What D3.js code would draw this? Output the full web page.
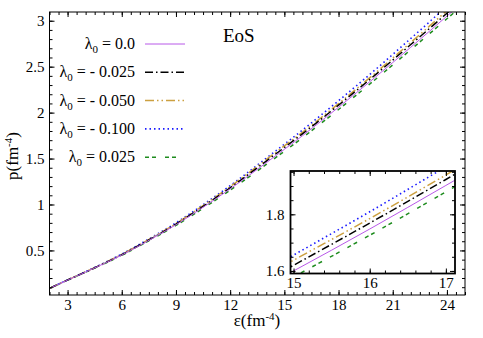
<!DOCTYPE html>
<html>
<head>
<meta charset="utf-8">
<script src="https://cdn.jsdelivr.net/npm/d3@7"></script>
<style>
  body { margin: 0; background: #fff; }
  svg text { font-family: "Liberation Serif", "Times New Roman", Times, "DejaVu Serif", serif; }
</style>
</head>
<body>
<svg id="chart" width="483" height="338"></svg>
<script>
// energy density grid (fm^-4)
const eps = [2, 3, 4, 5, 6, 7, 8, 9, 10, 11, 12, 13, 14, 15, 16, 17, 18, 19, 20, 21, 22, 23, 24, 25]

// pressure p (fm^-4) for each lambda_0
const pLam000 = [0.087, 0.177, 0.265, 0.355, 0.450, 0.555, 0.665, 0.780, 0.905, 1.035, 1.170, 1.310, 1.455, 1.600, 1.748, 1.902, 2.058, 2.218, 2.380, 2.545, 2.712, 2.880, 3.050, 3.222]
const pLamM025 = [0.087, 0.178, 0.266, 0.357, 0.453, 0.559, 0.670, 0.786, 0.913, 1.045, 1.182, 1.325, 1.473, 1.620, 1.769, 1.923, 2.081, 2.242, 2.405, 2.572, 2.741, 2.910, 3.082, 3.256]
const pLamM050 = [0.087, 0.178, 0.267, 0.359, 0.456, 0.563, 0.675, 0.792, 0.921, 1.055, 1.194, 1.339, 1.489, 1.638, 1.785, 1.939, 2.098, 2.260, 2.425, 2.594, 2.764, 2.936, 3.110, 3.286]
const pLamM100 = [0.087, 0.179, 0.269, 0.362, 0.460, 0.568, 0.681, 0.800, 0.930, 1.065, 1.205, 1.352, 1.504, 1.656, 1.809, 1.968, 2.129, 2.294, 2.461, 2.633, 2.807, 2.982, 3.160, 3.340]
const pLamP025 = [0.087, 0.176, 0.264, 0.353, 0.447, 0.551, 0.659, 0.772, 0.895, 1.023, 1.156, 1.294, 1.436, 1.579, 1.726, 1.879, 2.034, 2.193, 2.355, 2.519, 2.685, 2.853, 3.022, 3.193]

const lambdaLabels = ["0.0", "- 0.025", "- 0.050", "- 0.100", "0.025"]

const xTicks = [3, 6, 9, 12, 15, 18, 21, 24]
const yTicks = [0.5, 1, 1.5, 2, 2.5, 3]
const insetXTicks = [15, 16, 17]
const insetYTicks = [1.6, 1.8]

const series = [
    { label: lambdaLabels[0], values: pLam000, color: "#b858e8", dash: null, width: 1 },
    { label: lambdaLabels[1], values: pLamM025, color: "#000", dash: "8,3,1.5,3", width: 1.5 },
    { label: lambdaLabels[2], values: pLamM050, color: "#cca040", dash: "9,3,1.5,3,1.5,3", width: 1.5 },
    { label: lambdaLabels[3], values: pLamM100, color: "#1a1aff", dash: "1.5,3", width: 1.6 },
    { label: lambdaLabels[4], values: pLamP025, color: "#1e8c1e", dash: "4,3,4,9", width: 1.5 },
]

const serif = "'Liberation Serif', 'Times New Roman', Times, 'DejaVu Serif', serif"

const svg = d3.select("#chart")

const main = { left: 49.5, right: 465, top: 12, bottom: 295 }
const inset = { left: 290.5, right: 455, top: 171, bottom: 273.5 }

const x = d3.scaleLinear().domain([2, 25]).range([main.left, main.right])
const y = d3.scaleLinear().domain([0.015, 3.095]).range([main.bottom, main.top])
const xi = d3.scaleLinear().domain([14.96, 17.12]).range([inset.left, inset.right])
const yi = d3.scaleLinear().domain([1.591, 1.953]).range([inset.bottom, inset.top])

function range(a, b, step) {
    const out = []
    for (let v = a; v <= b + 1e-9; v += step) out.push(+v.toFixed(4))
    return out
}

function addFrame(box, sx, sy, major, minor, opts) {
    const g = svg.append("g")
    const w = box.right - box.left, h = box.bottom - box.top
    const styleAxis = (sel) => {
        sel.attr("font-family", null)
        sel.select(".domain").remove()
        sel.selectAll("line").attr("stroke", "#000").attr("stroke-width", 1)
        sel.selectAll("text").attr("fill", "#000").style("font-size", opts.fontSize).style("font-family", serif)
    }
    // bottom / top
    g.append("g").attr("transform", `translate(0,${box.bottom})`)
        .call(d3.axisBottom(sx).tickValues(major.x).tickSize(-opts.major).tickPadding(opts.xPad).tickFormat(d3.format("")))
        .call(styleAxis)
    g.append("g").attr("transform", `translate(0,${box.bottom})`)
        .call(d3.axisBottom(sx).tickValues(minor.x).tickSize(-opts.minor).tickFormat(""))
        .call(styleAxis)
    g.append("g").attr("transform", `translate(0,${box.top})`)
        .call(d3.axisTop(sx).tickValues(major.x).tickSize(-opts.major).tickFormat(""))
        .call(styleAxis)
    g.append("g").attr("transform", `translate(0,${box.top})`)
        .call(d3.axisTop(sx).tickValues(minor.x).tickSize(-opts.minor).tickFormat(""))
        .call(styleAxis)
    // left / right
    g.append("g").attr("transform", `translate(${box.left},0)`)
        .call(d3.axisLeft(sy).tickValues(major.y).tickSize(-opts.major).tickPadding(opts.yPad).tickFormat(d3.format("")))
        .call(styleAxis)
    g.append("g").attr("transform", `translate(${box.left},0)`)
        .call(d3.axisLeft(sy).tickValues(minor.y).tickSize(-opts.minor).tickFormat(""))
        .call(styleAxis)
    g.append("g").attr("transform", `translate(${box.right},0)`)
        .call(d3.axisRight(sy).tickValues(major.y).tickSize(-opts.major).tickFormat(""))
        .call(styleAxis)
    g.append("g").attr("transform", `translate(${box.right},0)`)
        .call(d3.axisRight(sy).tickValues(minor.y).tickSize(-opts.minor).tickFormat(""))
        .call(styleAxis)

    g.append("rect")
        .attr("x", box.left).attr("y", box.top)
        .attr("width", w).attr("height", h)
        .attr("fill", "none").attr("stroke", "#000").attr("stroke-width", opts.border)
    return g
}

function drawCurves(sx, sy, box, id) {
    svg.append("clipPath").attr("id", id)
        .append("rect")
        .attr("x", box.left).attr("y", box.top)
        .attr("width", box.right - box.left).attr("height", box.bottom - box.top)

    const line = d3.line()
        .x((d, i) => sx(eps[i]))
        .y(d => sy(d))
        .curve(d3.curveMonotoneX)

    const g = svg.append("g").attr("clip-path", `url(#${id})`)
    // draw in reverse so the solid line sits under the dashed ones
    for (let s of series.slice().reverse()) {
        g.append("path")
            .attr("d", line(s.values))
            .attr("fill", "none")
            .attr("stroke", s.color)
            .attr("stroke-width", s.width)
            .attr("stroke-dasharray", s.dash)
    }
}

// main panel
drawCurves(x, y, main, "clipMain")
addFrame(main, x, y,
    { x: xTicks, y: yTicks },
    { x: range(2, 25, 0.5), y: range(0.1, 3.0, 0.1) },
    { major: 5, minor: 3, xPad: 4, yPad: 5, fontSize: "15px", border: 1 })

// legend
const legend = svg.append("g")
series.forEach((s, i) => {
    const ly = 44 + i * 28.3
    const t = legend.append("text")
        .attr("x", 135).attr("y", ly + 5)
        .attr("text-anchor", "end")
        .style("font-size", "16px")
        .style("font-family", serif)
        .attr("fill", "#000")
    t.append("tspan").text("λ")
    t.append("tspan").attr("dy", 4).style("font-size", "11px").text("0")
    t.append("tspan").attr("dy", -4).text(" = " + s.label)
    legend.append("line")
        .attr("x1", 145).attr("x2", 185)
        .attr("y1", ly).attr("y2", ly)
        .attr("stroke", s.color)
        .attr("stroke-width", s.width)
        .attr("stroke-dasharray", s.dash)
})

svg.append("text")
    .attr("x", 223).attr("y", 42)
    .style("font-size", "19px")
    .style("font-family", serif)
    .attr("fill", "#000")
    .text("EoS")

// axis titles
const xt = svg.append("text")
    .attr("x", 257).attr("y", 326)
    .attr("text-anchor", "middle")
    .style("font-size", "17px")
    .style("font-family", serif)
    .attr("fill", "#000")
xt.append("tspan").text("ε(fm")
xt.append("tspan").attr("dy", -6).style("font-size", "11px").text("-4")
xt.append("tspan").attr("dy", 6).text(")")

const yt = svg.append("text")
    .attr("transform", "translate(18,156) rotate(-90)")
    .attr("text-anchor", "middle")
    .style("font-size", "17px")
    .style("font-family", serif)
    .attr("fill", "#000")
yt.append("tspan").text("p(fm")
yt.append("tspan").attr("dy", -6).style("font-size", "11px").text("-4")
yt.append("tspan").attr("dy", 6).text(")")

// inset
svg.append("rect")
    .attr("x", inset.left).attr("y", inset.top)
    .attr("width", inset.right - inset.left).attr("height", inset.bottom - inset.top)
    .attr("fill", "#fff")
drawCurves(xi, yi, inset, "clipInset")
addFrame(inset, xi, yi,
    { x: insetXTicks, y: insetYTicks },
    { x: range(15, 17, 0.2), y: range(1.6, 1.95, 0.05) },
    { major: 5, minor: 3, xPad: 4, yPad: 6, fontSize: "15px", border: 1.8 })
</script>
</body>
</html>
